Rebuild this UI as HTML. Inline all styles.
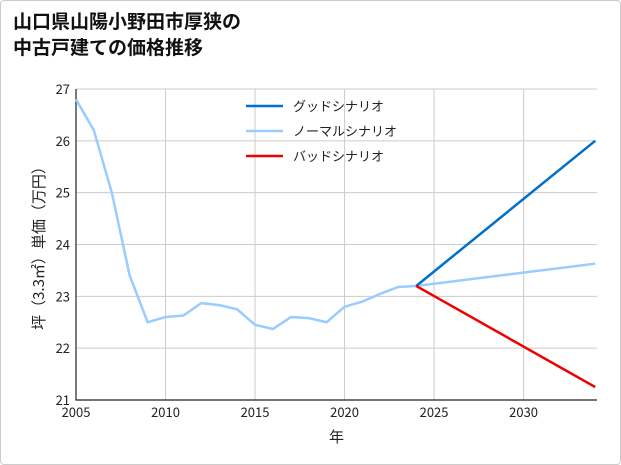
<!DOCTYPE html>
<html><head><meta charset="utf-8"><style>
body{margin:0;background:#fff;font-family:"Noto Sans CJK JP",sans-serif}
#wrap{position:relative;width:619px;height:463px;border:1px solid #ccc;border-radius:4px;overflow:hidden}
#title{position:absolute;left:12px;top:7px;font-size:19px;font-weight:bold;line-height:26px;color:#111}
text{font-family:"Noto Sans CJK JP",sans-serif}
</style></head><body>
<div id="wrap">
<div id="title">山口県山陽小野田市厚狭の<br>中古戸建ての価格推移</div>
<svg id="chart" width="621" height="465" style="position:absolute;left:0;top:0"></svg>
</div>
<script>
const years=[2005,2006,2007,2008,2009,2010,2011,2012,2013,2014,2015,2016,2017,2018,2019,2020,2021,2022,2023,2024];
const normal=[26.8,26.2,25.0,23.4,22.5,22.6,22.63,22.87,22.83,22.75,22.45,22.37,22.6,22.58,22.5,22.8,22.9,23.05,23.18,23.2];
const projYears=[2024,2034];
const good=[23.2,26.0];
const normalProj=[23.2,23.63];
const bad=[23.2,21.25];
const xTicks=[2005,2010,2015,2020,2025,2030];
const yTicks=[21,22,23,24,25,26,27];
const svg=document.getElementById('chart');const NS='http://www.w3.org/2000/svg';
const L=75,R=596,T=88,B=399,x0=2005,x1=2034.1,y0=21,y1=27;
const X=v=>L+(v-x0)/(x1-x0)*(R-L),Y=v=>B-(v-y0)/(y1-y0)*(B-T);
function mk(t,a,p){const e=document.createElementNS(NS,t);for(const k in a)e.setAttribute(k,a[k]);(p||svg).appendChild(e);return e;}
xTicks.forEach(v=>{const l=mk('line',{x1:X(v),x2:X(v),y1:T,y2:B,stroke:'#ccc'});


const t=mk('text',{x:X(v),y:B+17,'text-anchor':'middle','font-size':13,fill:'#222'});t.textContent=v;

});
yTicks.forEach(v=>{const l=mk('line',{x1:L,x2:R,y1:Y(v),y2:Y(v),stroke:'#ccc'});


const t=mk('text',{x:L-6,y:Y(v)+5,'text-anchor':'end','font-size':13,fill:'#222'});t.textContent=v;

});
const ax=mk('path',{d:`M${L},${T}V${B}H${R}`,stroke:'#222',fill:'none','stroke-width':1.2});


function line(xs,ys,c,n){const p=mk('polyline',{points:xs.map((v,i)=>X(v)+','+Y(ys[i])).join(' '),fill:'none',stroke:c,'stroke-width':2.5});

}
line(years,normal,'#99ccff','normal-history-line');
line(projYears,normalProj,'#99ccff','normal-scenario-line');
line(projYears,good,'#0070c8','good-scenario-line');
line(projYears,bad,'#ee0000','bad-scenario-line');
const xl=mk('text',{x:(L+R)/2,y:441,'text-anchor':'middle','font-size':15,fill:'#222'});xl.textContent='年';


const yl=mk('text',{x:0,y:0,'text-anchor':'middle','font-size':15,fill:'#222',transform:`translate(43,${(T+B)/2}) rotate(-90)`});yl.textContent='坪（3.3㎡）単価（万円）';


[['グッドシナリオ','#0070c8'],['ノーマルシナリオ','#99ccff'],['バッドシナリオ','#ee0000']].forEach((d,i)=>{const y=105+i*25;
const l=mk('line',{x1:245,x2:282,y1:y,y2:y,stroke:d[1],'stroke-width':2.5});


const t=mk('text',{x:292,y:y+5,'font-size':13,fill:'#222'});t.textContent=d[0];

});
</script></body></html>
